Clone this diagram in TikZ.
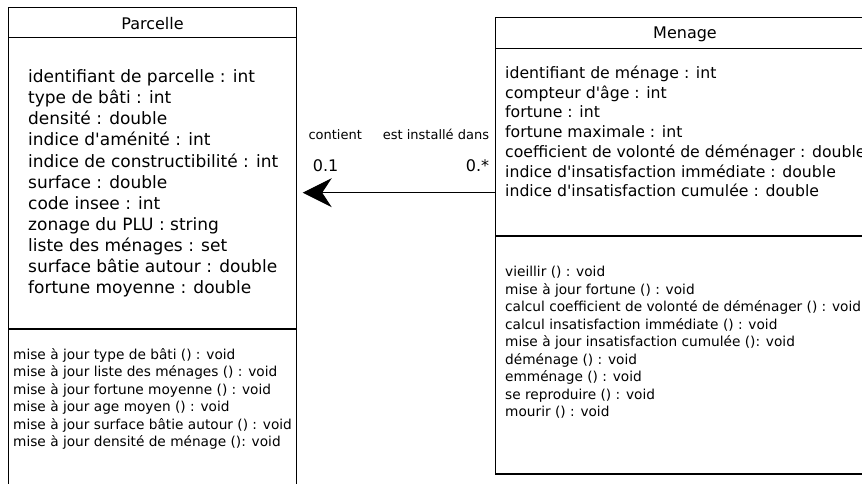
\documentclass[tikz,border=0pt]{standalone}
\usepackage{fontspec}
\newfontfamily\umlfont{DejaVu Sans}
\usetikzlibrary{arrows.meta}
\begin{document}
\begin{tikzpicture}[x=1pt,y=-1pt,
  box/.style={draw, line width=1.2pt, inner sep=0pt, outer sep=0pt, anchor=north west},
  sep/.style={line width=1.2pt},
  title/.style={anchor=base, inner sep=0pt, font=\umlfont\fontsize{16}{19}\selectfont},
  attrP/.style={anchor=base west, inner sep=0pt, font=\umlfont\fontsize{17}{21}\selectfont},
  attrM/.style={anchor=base west, inner sep=0pt, font=\umlfont\fontsize{15.7}{19.7}\selectfont},
  meth/.style={anchor=base west, inner sep=0pt, font=\umlfont\fontsize{13.7}{17.5}\selectfont},
  role/.style={inner sep=0pt, font=\umlfont\fontsize{13}{16}\selectfont},
  mult/.style={inner sep=0pt, font=\umlfont\fontsize{16}{19}\selectfont},
  assoc/.style={line width=1pt, -{Stealth[length=29pt,width=29pt,inset=9.5pt]}}]
\useasboundingbox (0,0) rectangle (862,484);
\fill[white] (0,0) rectangle (862,484);
\clip (0,0) rectangle (862,484);
% class boxes
\node[box, minimum width=288.4pt, minimum height=500pt] (parcelle) at (8.3,7.3) {};
\node[box, minimum width=378.6pt, minimum height=456.7pt] (menage) at (495.7,17.3) {};
% compartment separators
\draw[sep] (8.3,37.7) -- (296.7,37.7);
\draw[sep] (8.3,329) -- (296.7,329);
\draw[sep] (495.7,48.3) -- (874.3,48.3);
\draw[sep] (495.7,236) -- (874.3,236);
% titles
\node[title] (ptitle) at (152.5,29.3) {Parcelle};
\node[title] (mtitle) at (685,38.3) {Menage};
% Parcelle attributes
\foreach \t [count=\i] in {{identifiant de parcelle : int},{type de bâti : int},{densité : double},{indice d'aménité : int},{indice de constructibilité : int},{surface : double},{code insee : int},{zonage du PLU : string},{liste des ménages : set},{surface bâtie autour : double},{fortune moyenne : double}}
  \node[attrP] (pa\i) at (28,{82.7+21.1*(\i-1)}) {\t};
% Parcelle methods
\foreach \t [count=\i] in {{mise à jour type de bâti () : void},{mise à jour liste des ménages () : void},{mise à jour fortune moyenne () : void},{mise à jour age moyen () : void},{mise à jour surface bâtie autour () : void},{mise à jour densité de ménage (): void}}
  \node[meth] (pm\i) at (13,{359.3+17.5*(\i-1)}) {\t};
% Menage attributes
\foreach \t [count=\i] in {{identifiant de ménage : int},{compteur d'âge : int},{fortune : int},{fortune maximale : int},{coefficient de volonté de déménager : double},{indice d'insatisfaction immédiate : double},{indice d'insatisfaction cumulée : double}}
  \node[attrM] (ma\i) at (505,{78.5+19.7*(\i-1)}) {\t};
% Menage methods
\foreach \t [count=\i] in {{vieillir () : void},{mise à jour fortune () : void},{calcul coefficient de volonté de déménager () : void},{calcul insatisfaction immédiate () : void},{mise à jour insatisfaction cumulée (): void},{déménage () : void},{emménage () : void},{se reproduire () : void},{mourir () : void}}
  \node[meth] (mm\i) at (505,{276.7+17.5*(\i-1)}) {\t};
% association
\node[role, anchor=base west] (rcont) at (308.3,139.3) {contient};
\node[role, anchor=base east] (rinst) at (489.3,139.3) {est installé dans};
\node[mult, anchor=base west] (mp) at (312.7,171.7) {0.1};
\node[mult, anchor=base east] (mm) at (489.3,171.7) {0.*};
\coordinate (tip) at (302.7,192.7);
\draw[assoc] (menage.west |- tip) -- (tip);
\end{tikzpicture}
\end{document}
